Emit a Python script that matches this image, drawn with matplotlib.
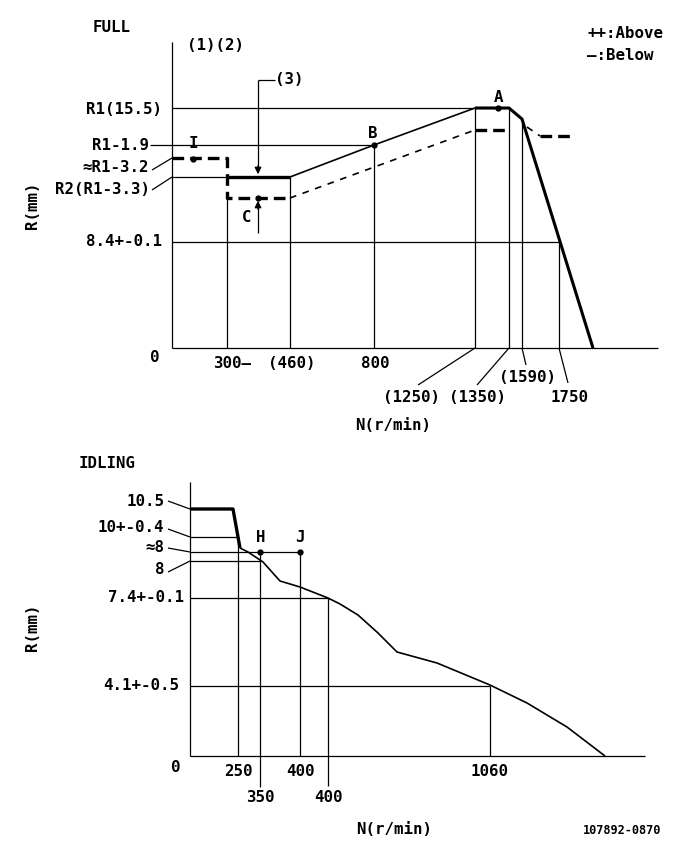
import matplotlib
matplotlib.use("Agg")
import matplotlib.pyplot as plt

plt.rcParams['font.family'] = ['DejaVu Sans Mono', 'DejaVu Sans']
plt.rcParams['font.weight'] = 'bold'
FS = 11.3

# ---- FULL panel (schematic units, not to scale) ----
full_tick_labels = ["300—", "(460)", "800", "(1250)", "(1350)", "(1590)", "1750"]
full_tick_x = [55, 118, 202, 303, 337, 350, 387]
full_level_labels = ["R1(15.5)", "R1-1.9", "≈R1-3.2", "R2(R1-3.3)", "8.4+-0.1"]
full_levels = [240, 203, 190, 171, 106]

# "Below" curve
below_x = [0, 55, 118, 202, 303, 337, 350, 421]
below_y = [171, 171, 171, 203, 240, 240, 229, 0]
# "Above" curve (dashed)
above_x = [0, 55, 55, 118, 303, 337]
above_y = [190, 190, 150, 150, 218, 218]
above_tail_x = [355, 368, 401]
above_tail_y = [221, 212, 212]

# ---- IDLING panel ----
idle_tick_labels = ["250", "350", "400", "400", "1060"]
idle_tick_x = [48, 70, 110, 138, 300]
idle_level_labels = ["10.5", "10+-0.4", "≈8", "8", "7.4+-0.1", "4.1+-0.5"]
idle_levels = [247, 219, 204, 195, 158, 70]

idle_x = [0, 43, 50, 58, 73, 90, 110, 138, 150, 168, 188, 207, 247, 300, 337, 377, 415]
idle_y = [247, 247, 208, 204, 194, 175, 169, 158, 152, 141, 123, 104, 93, 71, 53, 29, 0]

W, H = 685, 849
fig = plt.figure(figsize=(W / 100, H / 100), dpi=100)


def panel(ox, oy, w, h):
    ax = fig.add_axes([ox / W, 1 - oy / H, w / W, h / H])
    ax.set_xlim(0, w)
    ax.set_ylim(0, h)
    ax.axis('off')
    return ax


def ln(ax, xs, ys, lw=0.9, **kw):
    ax.plot(xs, ys, color='black', lw=lw, clip_on=False, solid_capstyle='butt', **kw)


def txt(ax, x, y, s, ha='center', fs=FS, **kw):
    ax.text(x, y, s, ha=ha, va='center', fontsize=fs, fontweight='bold', **kw)


# ================= FULL =================
ax = panel(172, 348, 486, 306)
ln(ax, [0, 0], [0, 306])
ln(ax, [0, 486], [0, 0])

# reference levels
ln(ax, [0, full_tick_x[4]], [full_levels[0]] * 2)
ln(ax, [-22, full_tick_x[2]], [full_levels[1]] * 2)
ln(ax, [0, full_tick_x[6]], [full_levels[4]] * 2)

# verticals
ln(ax, [full_tick_x[0]] * 2, [0, above_y[2]])
ln(ax, [full_tick_x[1]] * 2, [0, below_y[2]])
ln(ax, [full_tick_x[2]] * 2, [0, below_y[3]])
ln(ax, [full_tick_x[3]] * 2, [0, below_y[4]])
ln(ax, [full_tick_x[4]] * 2, [0, below_y[5]])
ln(ax, [full_tick_x[5]] * 2, [0, below_y[6]])
ln(ax, [full_tick_x[6]] * 2, [0, full_levels[4]])

# below curve
ln(ax, below_x[0:2], below_y[0:2])
ln(ax, below_x[1:3], below_y[1:3], lw=2.4)
ln(ax, below_x[2:5], below_y[2:5], lw=1.2)
ln(ax, below_x[4:], below_y[4:], lw=2.2)

# above curve
ln(ax, above_x[0:4], above_y[0:4], lw=2.4, dashes=(3.5, 1.8))
ln(ax, above_x[3:5], above_y[3:5], lw=1.2, dashes=(4, 4))
ln(ax, above_x[4:6], above_y[4:6], lw=2.4, dashes=(3.5, 1.8))
ln(ax, above_tail_x[0:2], above_tail_y[0:2], lw=1.2, dashes=(4, 4))
ln(ax, above_tail_x[1:], above_tail_y[1:], lw=2.4, dashes=(3.5, 1.8))

# leaders to level labels
ln(ax, [-20, 0], [178, full_levels[2]])
ln(ax, [-20, 0], [158, full_levels[3]])

# points
ax.plot([21, 202, 326, 86], [189, 203, 240, 150], 'o', color='black', ms=3.5, clip_on=False)
txt(ax, 21, 205, "I")
txt(ax, 201, 215, "B")
txt(ax, 326, 251, "A")
txt(ax, 75, 130, "C")

# (3) arrows
ln(ax, [86, 103], [268, 268])
ln(ax, [86, 86], [268, 176])
ax.annotate("", xy=(86, 171), xytext=(86, 185),
            arrowprops=dict(arrowstyle='-|>', color='black', lw=0.9, mutation_scale=10))
ln(ax, [86, 86], [115, 145])
ax.annotate("", xy=(86, 150), xytext=(86, 136),
            arrowprops=dict(arrowstyle='-|>', color='black', lw=0.9, mutation_scale=10))
txt(ax, 117, 268, "(3)")

# level labels
lvl_x = [-10, -23, -23, -22, -10]
lvl_y = [239, 203, 181, 158, 106]
for s, x, y in zip(full_level_labels, lvl_x, lvl_y):
    txt(ax, x, y, s, ha='right')

# speed labels and leaders
txt(ax, 41, -15, full_tick_labels[0], ha='left')
txt(ax, 120, -15, full_tick_labels[1])
txt(ax, 203, -15, full_tick_labels[2])
txt(ax, 239, -50, full_tick_labels[3])
ln(ax, [full_tick_x[3], 246], [0, -37])
txt(ax, 305, -50, full_tick_labels[4])
ln(ax, [full_tick_x[4], 305], [0, -37])
txt(ax, 355, -29, full_tick_labels[5])
ln(ax, [full_tick_x[5], 354], [0, -17])
txt(ax, 398, -50, full_tick_labels[6])
ln(ax, [full_tick_x[6], 396], [0, -35])
txt(ax, -17, -9, "0")
txt(ax, 183, -77, "N(r/min)", ha='left')

txt(ax, -79, 320, "FULL", ha='left')
txt(ax, 15, 303, "(1)(2)", ha='left')
txt(ax, 415, 315, "++:Above", ha='left')
txt(ax, 415, 293, "—:Below", ha='left')
txt(ax, -139, 143, "R(mm)", rotation=90)

# ================= IDLING =================
bx = panel(190, 756, 455, 274)
ln(bx, [0, 0], [0, 274])
ln(bx, [0, 455], [0, 0])

ln(bx, idle_x[0:3], idle_y[0:3], lw=2.4)
ln(bx, idle_x[2:], idle_y[2:], lw=1.2)

# reference levels
ln(bx, [0, idle_tick_x[0]], [idle_levels[1]] * 2)
ln(bx, [0, idle_tick_x[2]], [idle_levels[2]] * 2)
ln(bx, [0, idle_tick_x[1]], [idle_levels[3]] * 2)
ln(bx, [0, idle_tick_x[3]], [idle_levels[4]] * 2)
ln(bx, [0, idle_tick_x[4]], [idle_levels[5]] * 2)

# verticals
ln(bx, [idle_tick_x[0]] * 2, [0, idle_levels[1]])
ln(bx, [idle_tick_x[1]] * 2, [-31, idle_levels[2]])
ln(bx, [idle_tick_x[2]] * 2, [0, idle_levels[2]])
ln(bx, [idle_tick_x[3]] * 2, [-30, idle_levels[4]])
ln(bx, [idle_tick_x[4]] * 2, [0, idle_levels[5]])

# leaders
ln(bx, [-22, 0], [255, idle_levels[0]])
ln(bx, [-22, 0], [227, idle_levels[1]])
ln(bx, [-22, 0], [208, idle_levels[2]])
ln(bx, [-22, 0], [184, idle_levels[3]])

bx.plot([idle_tick_x[1], idle_tick_x[2]], [idle_levels[2]] * 2, 'o', color='black', ms=3.5, clip_on=False)
txt(bx, 71, 219, "H")
txt(bx, 110, 219, "J")

ilvl_x = [-26, -26, -26, -26, -6, -11]
ilvl_y = [255, 229, 208, 187, 158, 70]
for s, x, y in zip(idle_level_labels, ilvl_x, ilvl_y):
    txt(bx, x, y, s, ha='right')

itick_y = [-15, -41, -15, -41, -15]
for s, x, y in zip(idle_tick_labels, idle_tick_x, itick_y):
    txt(bx, x, y, s)
txt(bx, -14, -11, "0")
txt(bx, 166, -74, "N(r/min)", ha='left')
txt(bx, -111, 293, "IDLING", ha='left')
txt(bx, -157, 129, "R(mm)", rotation=90)
txt(bx, 432, -74, "107892-0870", fs=8.6)

fig.savefig("out.png", dpi=100)
